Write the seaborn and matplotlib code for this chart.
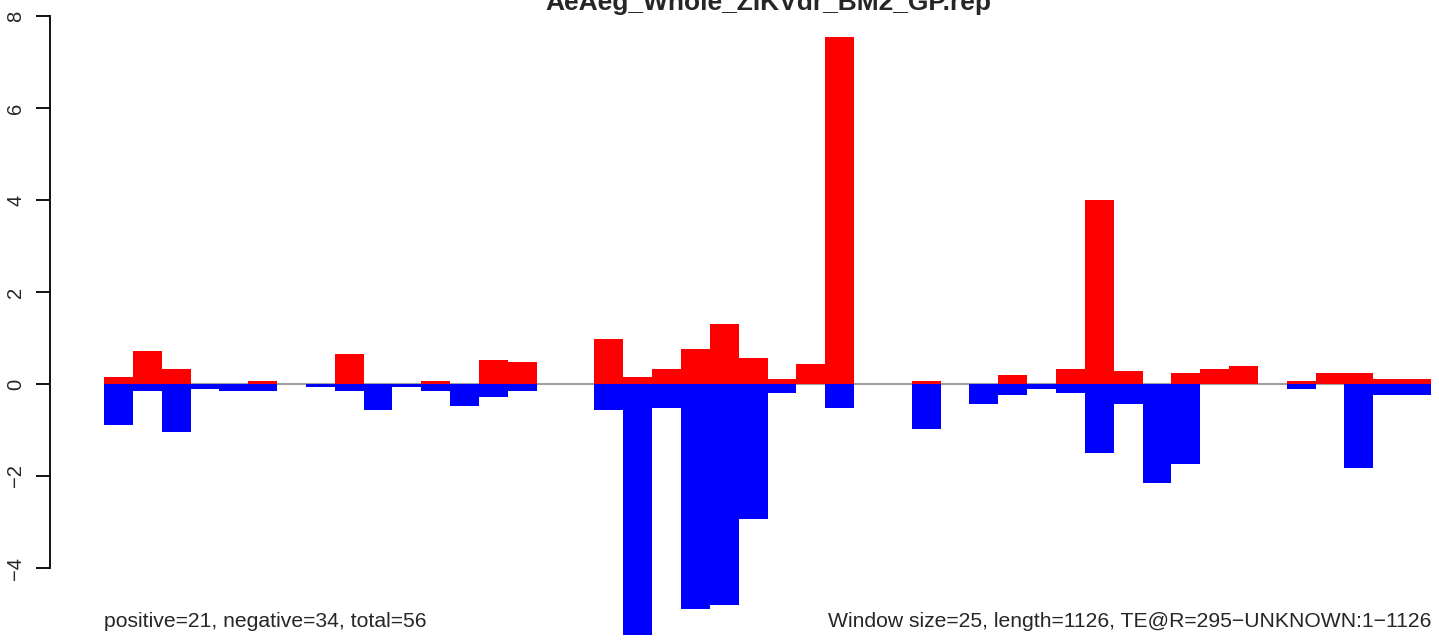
import pandas as pd
import seaborn as sns
import matplotlib.pyplot as plt

# window values (46 windows of 25)
windows = list(range(46))
pos_vals = [0.15, 0.72, 0.33, 0, 0, 0.06, 0, 0, 0.65, 0, 0, 0.06, 0, 0.52, 0.47, 0,
            0, 0.97, 0.15, 0.33, 0.76, 1.30, 0.565, 0.11, 0.44, 7.54, 0, 0, 0.06, 0,
            0, 0.19, 0, 0.33, 4.0, 0.28, 0, 0.24, 0.33, 0.40, 0, 0.06, 0.24, 0.24,
            0.11, 0.11]
neg_vals = [-0.89, -0.15, -1.04, -0.11, -0.15, -0.15, 0, -0.07, -0.15, -0.56, -0.07,
            -0.15, -0.48, -0.28, -0.15, 0, 0, -0.56, -5.45, -0.52, -4.89, -4.80, -2.94,
            -0.19, 0, -0.52, 0, 0, -0.97, 0, -0.43, -0.24, -0.11, -0.20, -1.50, -0.43,
            -2.15, -1.74, 0, 0, 0, -0.11, 0, -1.83, -0.24, -0.24]
yticks = [-4, -2, 0, 2, 4, 6, 8]

title = "AeAeg_Whole_ZIKVdr_BM2_GP.rep"
left_note = "positive=21, negative=34, total=56"
right_note = "Window size=25, length=1126, TE@R=295\u2212UNKNOWN:1\u22121126"

df = pd.DataFrame({"window": windows, "pos": pos_vals, "neg": neg_vals})

sns.set_style("ticks")
plt.rcParams['font.family'] = ['Liberation Sans', 'DejaVu Sans']

W, H = 1439, 641
fig = plt.figure(figsize=(W / 100, H / 100), dpi=100)
ax = fig.add_axes([50 / W, 0, (W - 50) / W, 1])

# zero line under the bars
ax.hlines(0, -0.5, 45.5, color="#a0a0a0", linewidth=1.5, zorder=0)

sns.barplot(data=df, x="window", y="pos", color="#ff0000", saturation=1,
            width=1, linewidth=0, errorbar=None, ax=ax, zorder=2)
sns.barplot(data=df, x="window", y="neg", color="#0000ff", saturation=1,
            width=1, linewidth=0, errorbar=None, ax=ax, zorder=2)

unit = (1431 - 104) / 46
ax.set_xlim(-0.5 - 54 / unit, 45.5 + 8 / unit)
ax.set_ylim(-(H - 384) / 46, 384 / 46)
ax.set_xlabel("")
ax.set_ylabel("")
ax.set_xticks([])
ax.set_yticks(yticks)
ax.set_yticklabels([f"{t:d}".replace("-", "\u2212") for t in yticks],
                   rotation=90, va="center", fontsize=14.5)
ax.tick_params(axis="y", length=10, width=1.3, pad=8, color="black")
for s in ["top", "right", "bottom"]:
    ax.spines[s].set_visible(False)
ax.spines["left"].set_bounds(-4, 8)
ax.spines["left"].set_linewidth(1.3)
ax.spines["left"].set_color("black")
ax.patch.set_alpha(0)

fig.text(768 / W, 1 - 10 / H, title, ha="center", va="baseline",
         fontsize=19, fontweight="bold")
fig.text(104 / W, 1 - 627 / H, left_note, ha="left", va="baseline", fontsize=15.2)
fig.text(1431 / W, 1 - 627 / H, right_note, ha="right", va="baseline", fontsize=15.2)

plt.savefig("out.png", dpi=100)
plt.close()
